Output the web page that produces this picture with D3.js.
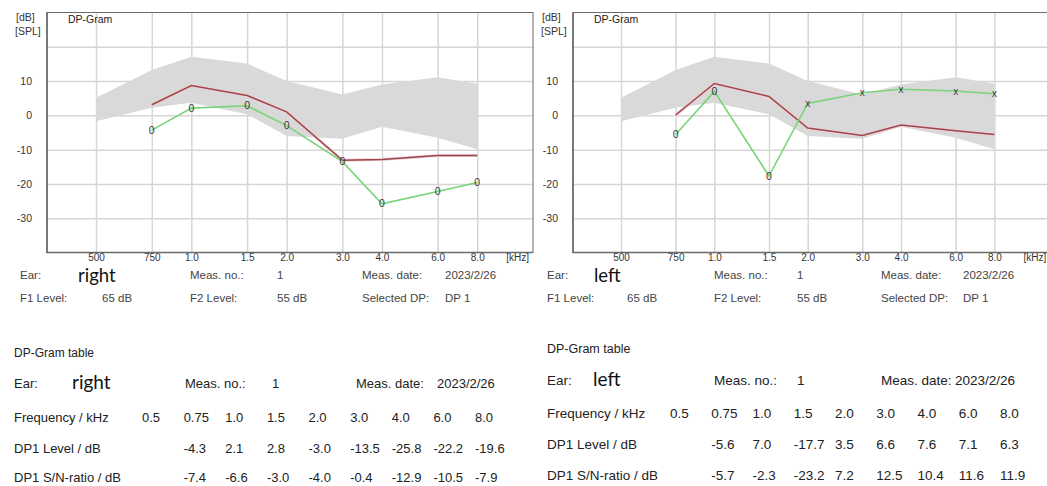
<!DOCTYPE html>
<html>
<head>
<meta charset="utf-8">
<script src="https://cdn.jsdelivr.net/npm/d3@7"></script>
<style>
  body { margin: 0; background: #fff; }
  svg text { font-family: "Liberation Sans", Arial, sans-serif; }
</style>
</head>
<body>
<div id="vis"></div>
<script>
// frequencies of the DP-gram grid (Hz) and their axis labels
var freqs      = [500, 750, 1000, 1500, 2000, 3000, 4000, 6000, 8000];
var freqLabels = ["500", "750", "1.0", "1.5", "2.0", "3.0", "4.0", "6.0", "8.0"];
var yGrid      = [20, 10, 0, -10, -20, -30];
var yLabels    = [10, 0, -10, -20, -30];

// normal range band (dB SPL)
var normUpper  = [5.1, 13.2, 17.1, 15.1, 10.0, 6.1, 9.0, 11.1, 9.2];
var normLower  = [-1.7, 2.2, 3.7, 0.3, -6.0, -6.8, -3.3, -6.5, -9.9];

// measured DP frequencies
var dpFreqs    = [750, 1000, 1500, 2000, 3000, 4000, 6000, 8000];

// right ear
var rightLevel = [-4.3, 2.1, 2.8, -3.0, -13.5, -25.8, -22.2, -19.6];
var rightSnr   = [-7.4, -6.6, -3.0, -4.0, -0.4, -12.9, -10.5, -7.9];
var rightNoise = [3.1, 8.7, 5.8, 1.0, -13.1, -12.9, -11.7, -11.7];

// left ear
var leftLevel  = [-5.6, 7.0, -17.7, 3.5, 6.6, 7.6, 7.1, 6.3];
var leftSnr    = [-5.7, -2.3, -23.2, 7.2, 12.5, 10.4, 11.6, 11.9];
var leftNoise  = [0.1, 9.3, 5.5, -3.7, -5.9, -2.8, -4.5, -5.6];

// table header
var tableFreqLabels = ["0.5", "0.75", "1.0", "1.5", "2.0", "3.0", "4.0", "6.0", "8.0"];

var svg = d3.select('#vis').append('svg')
            .attr('width', 1047)
            .attr('height', 486);

function fmt(v) { return v.toFixed(1); }

function drawDPGram(p) {
    var x = d3.scaleLog().domain([350, 12000]).range([p.left, p.right]);
    var y = d3.scaleLinear().domain([-40, 30]).range([252.5, 12.5]);

    var g = svg.append('g');

    // grid via axes
    var xAxis = d3.axisBottom(x)
                  .tickValues(freqs)
                  .tickFormat(function(d, i) { return freqLabels[i]; })
                  .tickSize(-(y(-40) - y(30)))
                  .tickSizeOuter(0)
                  .tickPadding(1);
    var gx = g.append('g').attr('transform', 'translate(0,' + y(-40) + ')').call(xAxis);
    gx.select('.domain').remove();
    gx.selectAll('line').attr('stroke', '#d6d6d6').attr('stroke-width', 1.5);
    gx.selectAll('text').attr('font-size', '10px').attr('fill', '#333');

    var yAxis = d3.axisLeft(y)
                  .tickValues(yGrid)
                  .tickFormat(function(d) { return yLabels.indexOf(d) > -1 ? d : ''; })
                  .tickSize(-(p.right - p.left))
                  .tickSizeOuter(0)
                  .tickPadding(15);
    var gy = g.append('g').attr('transform', 'translate(' + p.left + ',0)').call(yAxis);
    gy.select('.domain').remove();
    gy.selectAll('line').attr('stroke', '#d6d6d6').attr('stroke-width', 1.5);
    gy.selectAll('text').attr('font-size', '10.5px').attr('fill', '#333');

    // normal band
    var band = d3.area()
                 .x(function(d, i) { return x(freqs[i]); })
                 .y0(function(d, i) { return y(normLower[i]); })
                 .y1(function(d, i) { return y(normUpper[i]); });
    g.append('path').datum(freqs).attr('d', band).attr('fill', '#d9d9d9');

    var line = d3.line()
                 .x(function(d) { return x(d.f); })
                 .y(function(d) { return y(d.v); });

    var noise = dpFreqs.map(function(f, i) { return { f: f, v: p.noise[i] }; });
    var level = dpFreqs.map(function(f, i) { return { f: f, v: p.level[i], snr: p.snr[i] }; });

    // noise floor
    g.append('path').datum(noise).attr('d', line)
     .attr('fill', 'none').attr('stroke', '#f0d0d2').attr('stroke-width', 3);
    g.append('path').datum(noise).attr('d', line)
     .attr('fill', 'none').attr('stroke', '#9c474d').attr('stroke-width', 1.5);

    // DP level
    g.append('path').datum(level).attr('d', line)
     .attr('fill', 'none').attr('stroke', '#78d478').attr('stroke-width', 1.6);

    g.selectAll('text.mark')
     .data(level)
     .enter()
     .append('text')
       .attr('class', 'mark')
       .attr('x', function(d) { return x(d.f); })
       .attr('y', function(d) { return y(d.v); })
       .attr('dy', '0.35em')
       .attr('text-anchor', 'middle')
       .attr('font-size', function(d) { return d.snr >= 6 ? '10px' : '10.5px'; })
       .attr('fill', '#3a3a3a')
       .text(function(d) { return d.snr >= 6 ? 'x' : '0'; });

    // frame
    g.append('rect')
     .attr('x', p.left).attr('y', y(30))
     .attr('width', p.right - p.left).attr('height', y(-40) - y(30))
     .attr('fill', 'none').attr('stroke', '#6a6a6a').attr('stroke-width', 1);
    g.append('path')
     .attr('d', 'M' + p.left + ',' + y(30) + 'V' + y(-40) + 'H' + p.right)
     .attr('fill', 'none').attr('stroke', '#6a6a6a').attr('stroke-width', 1.6);

    // corner labels
    g.append('text').attr('x', p.left - 31).attr('y', 21).attr('font-size', '10.5px').attr('fill', '#333').text('[dB]');
    g.append('text').attr('x', p.left - 32).attr('y', 35).attr('font-size', '10.5px').attr('fill', '#333').text('[SPL]');
    g.append('text').attr('x', p.left + 21).attr('y', 23).attr('font-size', '10.5px').attr('fill', '#222').text('DP-Gram');
    g.append('text').attr('x', x(8000) + 29).attr('y', 260.5).attr('font-size', '10px').attr('fill', '#333').text('[kHz]');

    // info lines below chart
    var info = [
        { t: 'Ear:', x: p.c0, y: p.r1 },
        { t: 'Meas. no.:', x: p.c2, y: p.r1 },
        { t: '1', x: p.c3, y: p.r1 },
        { t: 'Meas. date:', x: p.c4, y: p.r1 },
        { t: '2023/2/26', x: p.c5, y: p.r1 },
        { t: 'F1 Level:', x: p.c0, y: p.r2 },
        { t: '65 dB', x: p.c1, y: p.r2 },
        { t: 'F2 Level:', x: p.c2, y: p.r2 },
        { t: '55 dB', x: p.c3, y: p.r2 },
        { t: 'Selected DP:', x: p.c4, y: p.r2 },
        { t: 'DP 1', x: p.c5, y: p.r2 }
    ];
    g.selectAll('text.info').data(info).enter().append('text')
     .attr('class', 'info')
     .attr('x', function(d) { return d.x; })
     .attr('y', function(d) { return d.y; })
     .attr('font-size', '11.5px').attr('fill', '#444')
     .text(function(d) { return d.t; });
    g.append('text').attr('x', p.earX).attr('y', p.r1 + 3)
     .style('font-family', 'Lato, sans-serif').attr('font-size', '18.5px').attr('fill', '#111')
     .text(p.ear);
}

function drawTable(t) {
    var g = svg.append('g');
    var col = d3.scalePoint().domain(tableFreqLabels).range([t.colStart, t.colEnd]);
    var fs = t.fs;

    g.append('text').attr('x', t.x0).attr('y', t.y0).attr('font-size', (fs - 1) + 'px').attr('fill', '#222').text('DP-Gram table');

    var head = [
        { t: 'Ear:', x: t.x0 },
        { t: 'Meas. no.:', x: t.m1 },
        { t: '1', x: t.m2 },
        { t: 'Meas. date:', x: t.m3 },
        { t: '2023/2/26', x: t.m4 }
    ];
    g.selectAll('text.head').data(head).enter().append('text')
     .attr('x', function(d) { return d.x; }).attr('y', t.y1)
     .attr('font-size', fs + 'px').attr('fill', '#222')
     .text(function(d) { return d.t; });
    g.append('text').attr('x', t.earX).attr('y', t.y1 + 1)
     .style('font-family', 'Lato, sans-serif').attr('font-size', '19px').attr('fill', '#111')
     .text(t.ear);

    var rows = [
        { label: 'Frequency / kHz', y: t.y2, vals: tableFreqLabels, start: 0 },
        { label: 'DP1 Level / dB', y: t.y3, vals: t.level.map(fmt), start: 1 },
        { label: 'DP1 S/N-ratio / dB', y: t.y4, vals: t.snr.map(fmt), start: 1 }
    ];
    rows.forEach(function(r) {
        g.append('text').attr('x', t.x0).attr('y', r.y).attr('font-size', fs + 'px').attr('fill', '#222').text(r.label);
        g.selectAll(null).data(r.vals).enter().append('text')
         .attr('x', function(d, i) { return col(tableFreqLabels[i + r.start]); })
         .attr('y', r.y)
         .attr('font-size', fs + 'px').attr('fill', '#222')
         .text(function(d) { return d; });
    });
}

drawDPGram({ left: 47, right: 533, level: rightLevel, snr: rightSnr, noise: rightNoise, ear: 'right',
             c0: 20, c1: 102, c2: 190, c3: 277, c4: 362, c5: 445, earX: 78, r1: 279, r2: 302 });
drawDPGram({ left: 573, right: 1049, level: leftLevel, snr: leftSnr, noise: leftNoise, ear: 'left',
             c0: 547, c1: 627, c2: 714, c3: 797, c4: 881, c5: 963, earX: 594, r1: 279, r2: 302 });

drawTable({ x0: 14, colStart: 142, colEnd: 475, fs: 13, ear: 'right', earX: 72,
            m1: 185, m2: 272, m3: 356, m4: 437,
            y0: 357, y1: 388, y2: 422, y3: 452.5, y4: 482,
            level: rightLevel, snr: rightSnr });
drawTable({ x0: 547, colStart: 670, colEnd: 1000, fs: 13.5, ear: 'left', earX: 593,
            m1: 714, m2: 797, m3: 881, m4: 955,
            y0: 353, y1: 385, y2: 418, y3: 449, y4: 480,
            level: leftLevel, snr: leftSnr });
</script>
</body>
</html>
